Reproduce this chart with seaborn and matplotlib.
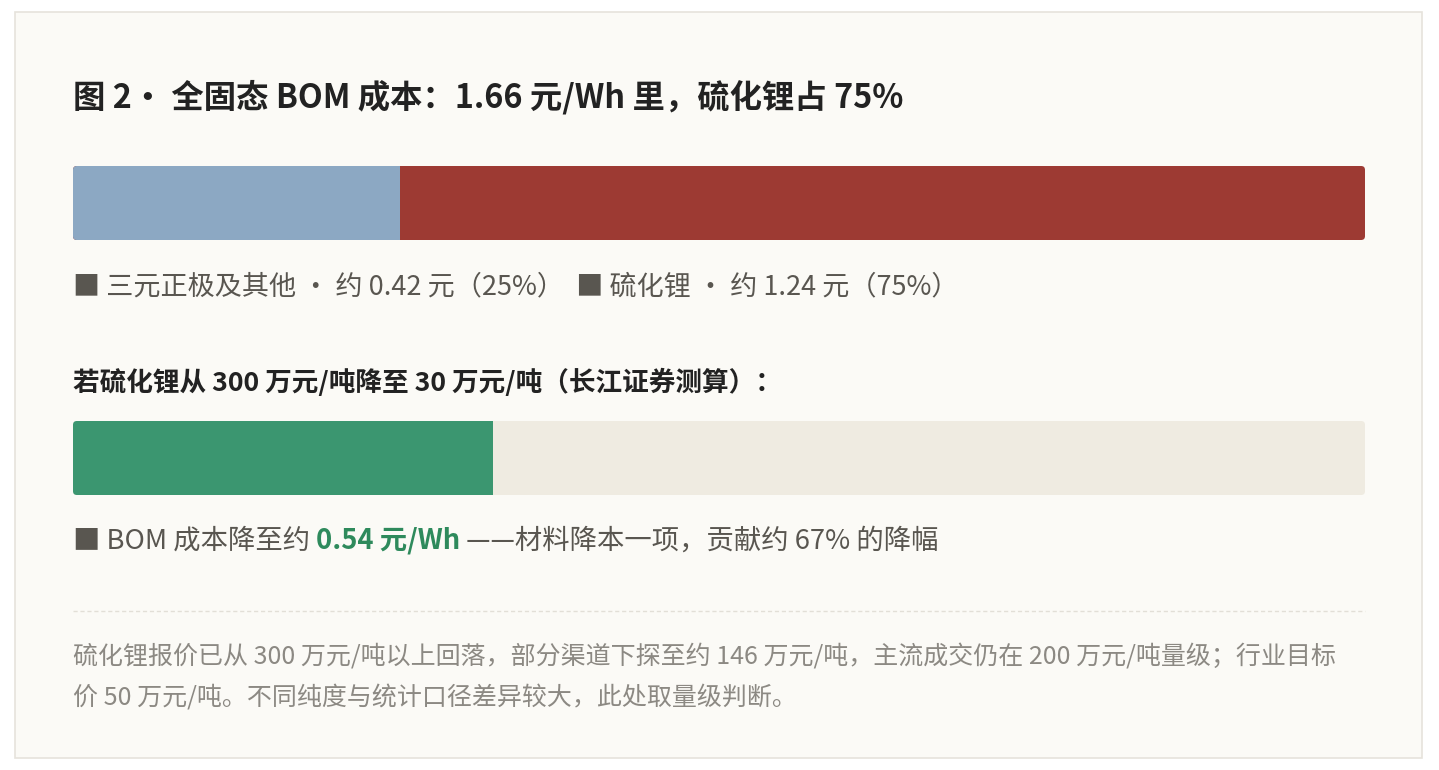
import matplotlib
matplotlib.use("Agg")
import matplotlib.pyplot as plt
import numpy as np
import pandas as pd
import seaborn as sns
from matplotlib.patches import FancyBboxPatch, Rectangle
from matplotlib.lines import Line2D

# ---- data ----
parts = ["三元正极及其他", "硫化锂"]
part_cost = [0.42, 1.24]          # 元/Wh
part_share = [25, 75]             # %
total_cost = 1.66
new_cost = 0.54                   # 元/Wh after Li2S price drop
reduction_share = 67              # %
price_from, price_to = 300, 30    # 万元/吨

W, H = 1439, 770
BG = "#fbfaf6"
COLORS = ["#8ca8c3", "#9d3a33"]
GREEN = "#3b9670"
TRACK = "#efebe1"
DARK = "#222222"
MID = "#595650"
LIGHT = "#8c8983"

sns.set_theme(style="white")
plt.rcParams["font.family"] = ["Noto Sans CJK SC", "DejaVu Sans"]

fig = plt.figure(figsize=(W / 100, H / 100), dpi=100)
fig.patch.set_facecolor("white")
# panel background, kept under the axes
fig.add_artist(Rectangle((15 / W, 1 - 758 / H), (1422 - 15) / W, (758 - 12) / H,
                         transform=fig.transFigure, facecolor=BG,
                         edgecolor="#e6e3dc", linewidth=1.2, zorder=-5))


def bar_axes(top_px):
    ax = fig.add_axes([73 / W, 1 - (top_px + 74) / H, 1292 / W, 74 / H])
    ax.patch.set_alpha(0)
    return ax


def finish(ax):
    ax.set_xlim(0, total_cost)
    ax.set_ylim(-0.5, 0.5)
    ax.axis("off")
    clip = FancyBboxPatch((0, 0), 1, 1, boxstyle="round,pad=0,rounding_size=0.003",
                          mutation_aspect=1292 / 74, transform=ax.transAxes,
                          facecolor="none", edgecolor="none")
    ax.add_patch(clip)
    for p in ax.patches:
        if p is not clip:
            p.set_clip_path(clip)


# stacked composition bar (cumulative ends, largest drawn first)
ax1 = bar_axes(166)
cum = np.cumsum(part_cost)
df1 = pd.DataFrame({"part": parts[::-1], "end": cum[::-1], "row": [0, 0]})
for (_, r), c in zip(df1.iterrows(), COLORS[::-1]):
    sns.barplot(x=[r["end"]], y=[r["row"]], orient="h", width=1, color=c,
                saturation=1, ax=ax1, linewidth=0)
finish(ax1)

# scenario bar: track = old total, fill = new cost
ax2 = bar_axes(421)
sns.barplot(x=[total_cost], y=[0], orient="h", width=1, color=TRACK,
            saturation=1, ax=ax2, linewidth=0)
sns.barplot(x=[new_cost], y=[0], orient="h", width=1, color=GREEN,
            saturation=1, ax=ax2, linewidth=0)
finish(ax2)

renderer = fig.canvas.get_renderer()


def runs(x_px, y_px, segs, size):
    x = x_px
    for text, kw in segs:
        style = dict(color=MID, fontweight="normal")
        style.update(kw)
        t = fig.text(x / W, 1 - y_px / H, text, va="center", ha="left",
                     fontsize=size, **style)
        x = t.get_window_extent(renderer).x1
    return x


runs(73, 97, [(f"图 2· 全固态 BOM 成本：{total_cost:.2f} 元/Wh 里，硫化锂占 {part_share[1]}%",
               dict(color=DARK, fontweight="bold"))], 23.3)

legend1 = []
for i, (p, c, s) in enumerate(zip(parts, part_cost, part_share)):
    lead = "" if i == 0 else "  "
    legend1.append((f"{lead}■ {p} · 约 {c:.2f} 元（{s}%）", {}))
runs(73, 287, legend1, 19.5)

runs(73, 383, [(f"若硫化锂从 {price_from} 万元/吨降至 {price_to} 万元/吨（长江证券测算）：",
                dict(color=DARK, fontweight="bold"))], 19.2)

runs(73, 541, [("■ BOM 成本降至约 ", {}),
               (f"{new_cost:.2f} 元/Wh", dict(color="#2e8a5c", fontweight="bold")),
               (f" ——材料降本一项，贡献约 {reduction_share}% 的降幅", {})], 19.7)

fig.add_artist(Line2D([73 / W, 1365 / W], [1 - 611 / H, 1 - 611 / H],
                      transform=fig.transFigure, color="#e2dfd7",
                      linewidth=1, linestyle=(0, (3, 2))))

runs(73, 657, [("硫化锂报价已从 300 万元/吨以上回落，部分渠道下探至约 146 万元/吨，主流成交仍在 200 万元/吨量级；行业目标",
                dict(color=LIGHT))], 18)
runs(73, 698, [("价 50 万元/吨。不同纯度与统计口径差异较大，此处取量级判断。",
                dict(color=LIGHT))], 18)

fig.savefig("out.png", dpi=100, facecolor=fig.get_facecolor())
